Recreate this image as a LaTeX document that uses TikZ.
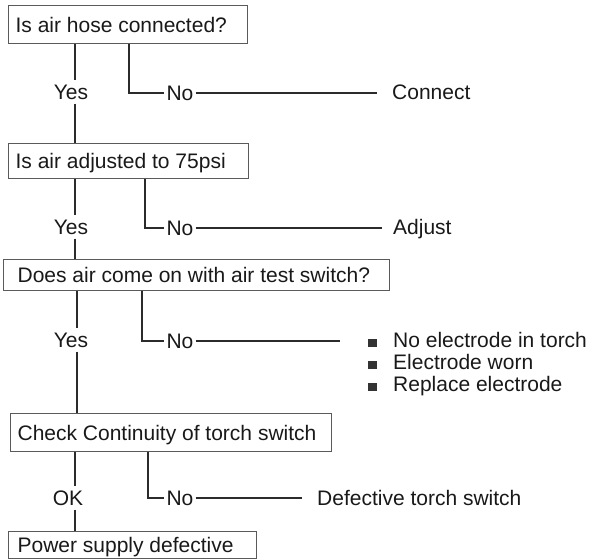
\documentclass[tikz,border=0pt]{standalone}
\usepackage{fontspec}
\setmainfont{Liberation Sans}
\usetikzlibrary{calc}
\definecolor{linec}{HTML}{2B2B2B}
\definecolor{boxc}{HTML}{5A5A5A}
\begin{document}
\begin{tikzpicture}[x=1pt,y=-1pt,
  font=\fontsize{21}{25}\selectfont,
  every node/.style={text=black!90},
  box/.style={draw=boxc, line width=1.2pt, rectangle, anchor=north west, text height=15pt, text depth=0pt, inner ysep=0pt},
  lbl/.style={inner xsep=2pt, inner ysep=4pt, text height=15pt, text depth=0pt},
  res/.style={anchor=west, inner sep=0pt, text height=15pt, text depth=0pt},
  conn/.style={draw=linec, line width=1.9pt},
  bul/.style={fill=black!80, minimum width=9pt, minimum height=8.5pt, inner sep=0pt}
]
\useasboundingbox (0,0) rectangle (590,560);

% boxes
\node[box, minimum width=239pt, minimum height=38pt, inner xsep=7pt] (b1) at (8,5) {\makebox[225pt][l]{Is air hose connected?}};
\node[box, minimum width=240pt, minimum height=35pt, inner xsep=7pt] (b2) at (8,143) {\makebox[226pt][l]{Is air adjusted to 75psi}};
\node[box, minimum width=386pt, minimum height=31pt, inner xsep=14pt] (b3) at (3,259) {\makebox[358pt][l]{Does air come on with air test switch?}};
\node[box, minimum width=321pt, minimum height=38pt, inner xsep=7pt] (b4) at (10,413) {\makebox[307pt][l]{Check Continuity of torch switch}};
\node[box, minimum width=248pt, minimum height=27pt, inner xsep=9pt] (b5) at (8,531) {\makebox[230pt][l]{Power supply defective}};

% column coordinates
\coordinate (c1) at (75,0);
\coordinate (c3) at (77,0);
\coordinate (v1) at (129,0);
\coordinate (v2) at (145,0);
\coordinate (v3) at (142,0);
\coordinate (v4) at (148,0);

% yes / ok labels
\node[lbl] (y1) at (71,92) {Yes};
\node[lbl] (y2) at (71,227) {Yes};
\node[lbl] (y3) at (71,340) {Yes};
\node[lbl] (ok) at (68,498) {OK};

% no labels
\node[lbl] (n1) at (180,93) {No};
\node[lbl] (n2) at (180,228) {No};
\node[lbl] (n3) at (180,341) {No};
\node[lbl] (n4) at (180,498) {No};

% line ends
\coordinate (e1) at (377,93);
\coordinate (e2) at (382,228);
\coordinate (e3) at (340,341);
\coordinate (e4) at (302,498);

% results
\node[res] (r1) at (392,92) {Connect};
\node[res] (r2) at (393,227) {Adjust};
\node[res] (r3a) at (393,340) {No electrode in torch};
\node[res] (r3b) at (393,362) {Electrode worn};
\node[res] (r3c) at (393,384) {Replace electrode};
\node[res] (r4) at (317,498) {Defective torch switch};

\node[bul] (q1) at (372,343) {};
\node[bul] (q2) at (372,365) {};
\node[bul] (q3) at (372,387) {};

% yes connectors
\draw[conn] (b1.south -| c1) -- (y1.north -| c1);
\draw[conn] (y1.south -| c1) -- (b2.north -| c1);
\draw[conn] (b2.south -| c1) -- (y2.north -| c1);
\draw[conn] (y2.south -| c1) -- (b3.north -| c1);
\draw[conn] (b3.south -| c3) -- (y3.north -| c3);
\draw[conn] (y3.south -| c3) -- (b4.north -| c3);
\draw[conn] (b4.south -| c1) -- (ok.north -| c1);
\draw[conn] (ok.south -| c1) -- (b5.north -| c1);

% no connectors
\draw[conn] (b1.south -| v1) |- (n1.west);
\draw[conn] (n1.east) -- (e1);
\draw[conn] (b2.south -| v2) |- (n2.west);
\draw[conn] (n2.east) -- (e2);
\draw[conn] (b3.south -| v3) |- (n3.west);
\draw[conn] (n3.east) -- (e3);
\draw[conn] (b4.south -| v4) |- (n4.west);
\draw[conn] (n4.east) -- (e4);
\end{tikzpicture}
\end{document}
